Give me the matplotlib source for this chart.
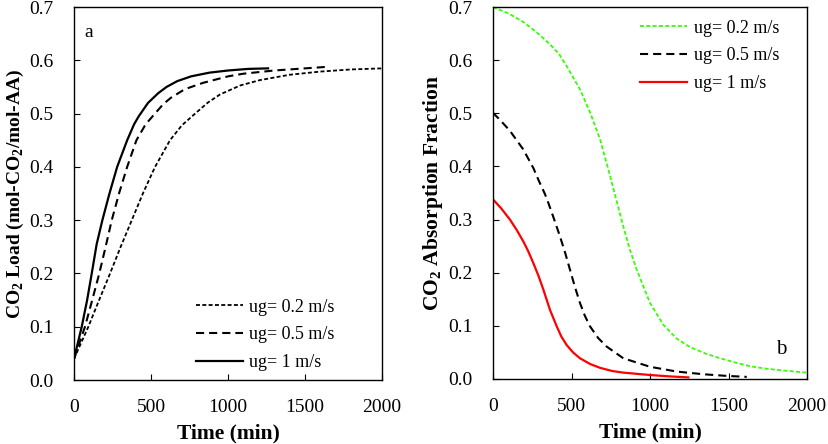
import matplotlib
matplotlib.use("Agg")
import matplotlib.pyplot as plt

plt.rcParams['font.family'] = ['Liberation Serif', 'DejaVu Serif']
plt.rcParams['mathtext.fontset'] = 'custom'
plt.rcParams['mathtext.rm'] = 'Liberation Serif'
plt.rcParams['mathtext.bf'] = 'Liberation Serif:bold'

# === panel a: CO2 load ===
t_a02 = [0, 93, 160, 234, 300, 375, 450, 526, 623, 700, 786, 870, 948, 1080, 1208, 1400, 1600, 1800, 2000]
y_a02 = [0.04, 0.10, 0.148, 0.20, 0.248, 0.30, 0.352, 0.40, 0.45, 0.478, 0.50, 0.521, 0.536, 0.553, 0.563, 0.573, 0.579, 0.583, 0.585]
t_a05 = [0, 71, 118, 164, 205, 245, 292, 345, 405, 465, 525, 580, 630, 720, 840, 1000, 1100, 1300, 1500, 1650]
y_a05 = [0.04, 0.10, 0.15, 0.20, 0.25, 0.30, 0.35, 0.40, 0.45, 0.48, 0.50, 0.518, 0.530, 0.546, 0.558, 0.570, 0.575, 0.581, 0.585, 0.588]
t_a1 = [0, 50, 85, 115, 147, 184, 230, 280, 345, 390, 420, 480, 545, 600, 670, 760, 880, 1000, 1130, 1260]
y_a1 = [0.04, 0.10, 0.15, 0.20, 0.255, 0.30, 0.35, 0.40, 0.45, 0.48, 0.495, 0.52, 0.538, 0.550, 0.561, 0.570, 0.577, 0.581, 0.584, 0.585]

# === panel b: CO2 absorption fraction ===
t_b02 = [0, 100, 193, 280, 363, 420, 469, 554, 618, 682, 745, 783, 830, 870, 915, 1000, 1085, 1170, 1255, 1361, 1425, 1530, 1637, 1750, 1849, 2000]
y_b02 = [0.700, 0.688, 0.672, 0.652, 0.630, 0.612, 0.589, 0.545, 0.502, 0.451, 0.383, 0.340, 0.287, 0.245, 0.206, 0.143, 0.102, 0.076, 0.060, 0.047, 0.041, 0.032, 0.024, 0.019, 0.016, 0.012]
t_b05 = [0, 50, 108, 193, 257, 289, 331, 353, 390, 427, 460, 490, 520, 554, 585, 618, 670, 724, 830, 1000, 1170, 1338, 1480, 1616]
y_b05 = [0.501, 0.486, 0.467, 0.432, 0.397, 0.375, 0.348, 0.331, 0.300, 0.268, 0.237, 0.206, 0.175, 0.143, 0.119, 0.099, 0.077, 0.061, 0.039, 0.023, 0.014, 0.009, 0.006, 0.004]
t_b1 = [0, 50, 108, 150, 193, 225, 257, 290, 321, 363, 406, 435, 469, 510, 554, 620, 682, 760, 830, 1000, 1120, 1244]
y_b1 = [0.338, 0.322, 0.300, 0.281, 0.259, 0.240, 0.218, 0.194, 0.168, 0.130, 0.099, 0.080, 0.064, 0.050, 0.039, 0.028, 0.021, 0.015, 0.012, 0.0075, 0.005, 0.003]

labels = ['ug= 0.2 m/s', 'ug= 0.5 m/s', 'ug= 1 m/s']

fig = plt.figure(figsize=(8.29, 4.44), dpi=100)
ax1 = fig.add_axes([0.0893, 0.1441, 0.3715, 0.8399])
ax2 = fig.add_axes([0.5947, 0.1464, 0.3788, 0.8376])

ax1.plot(t_a02, y_a02, color='black', lw=1.3, dashes=(2.2, 1.3), label=labels[0])
ax1.plot(t_a05, y_a05, color='black', lw=1.5, dashes=(3.9, 2.4), label=labels[1])
ax1.plot(t_a1, y_a1, color='black', lw=1.6, label=labels[2])

ax2.plot(t_b02, y_b02, color='#33ff00', lw=1.3, dashes=(2.2, 1.3), label=labels[0])
ax2.plot(t_b05, y_b05, color='black', lw=1.5, dashes=(3.9, 2.4), label=labels[1])
ax2.plot(t_b1, y_b1, color='red', lw=1.6, label=labels[2])

for ax in (ax1, ax2):
    ax.set_xlim(0, 2000)
    ax.set_ylim(0, 0.7)
    ax.set_xticks([0, 500, 1000, 1500, 2000])
    ax.set_yticks([0, 0.1, 0.2, 0.3, 0.4, 0.5, 0.6, 0.7])
    ax.set_yticklabels(['0.0', '0.1', '0.2', '0.3', '0.4', '0.5', '0.6', '0.7'])
    ax.tick_params(direction='in', length=4, width=0.8, labelsize=14)
    ax.tick_params(axis='x', pad=14)
    ax.tick_params(axis='y', pad=15)
    for s in ax.spines.values():
        s.set_linewidth(1.0)
    ax.set_xlabel('Time (min)', fontsize=15.5, fontweight='bold', labelpad=5)

ax1.set_ylabel(r'CO$_\mathbf{2}$ Load (mol-CO$_\mathbf{2}$/mol-AA)', fontsize=14, fontweight='bold', labelpad=2)
ax2.set_ylabel(r'CO$_\mathbf{2}$ Absorption Fraction', fontsize=15.5, fontweight='bold', labelpad=2)

ax1.text(0.035, 0.955, 'a', transform=ax1.transAxes, fontsize=14, va='top')
ax2.text(0.9, 0.055, 'b', transform=ax2.transAxes, fontsize=15, va='bottom')

ax1.legend(loc='lower right', frameon=False, fontsize=13, handlelength=2.6, handletextpad=0.35,
           labelspacing=0.59, borderaxespad=0.2, bbox_to_anchor=(0.88, -0.005))
ax2.legend(loc='upper right', frameon=False, fontsize=13, handlelength=2.6, handletextpad=0.35,
           labelspacing=0.59, borderaxespad=0.2, bbox_to_anchor=(0.945, 0.995))

plt.savefig('out.png', dpi=100)
